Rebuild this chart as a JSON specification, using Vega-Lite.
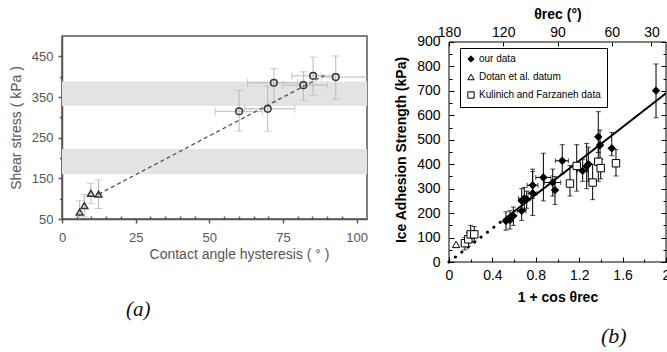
{
  "$schema": "https://vega.github.io/schema/vega-lite/v6.json",
  "background": "white",
  "padding": {"left": 8, "top": 7, "right": 0, "bottom": 0},
  "spacing": 25,
  "resolve": {"scale": {"shape": "independent", "fill": "independent", "stroke": "independent"}, "legend": {"shape": "independent", "fill": "independent", "stroke": "independent"}},
  "config": {"font": "Liberation Sans"},
  "datasets": {
    "bands": [{"lo": 160, "hi": 222}, {"lo": 328, "hi": 388}],
    "a": [
      {"kind": "tri", "x": 6.0, "y": 67, "ylo": 47, "yhi": 95},
      {"kind": "tri", "x": 7.6, "y": 83, "ylo": 55, "yhi": 110},
      {"kind": "tri", "x": 9.8, "y": 113, "ylo": 88, "yhi": 138},
      {"kind": "tri", "x": 12.4, "y": 111, "ylo": 76, "yhi": 146},
      {"kind": "circ", "x": 60.1, "y": 315, "xlo": 52, "xhi": 68, "ylo": 266, "yhi": 366},
      {"kind": "circ", "x": 69.8, "y": 321, "xlo": 62, "xhi": 79, "ylo": 266, "yhi": 377},
      {"kind": "circ", "x": 71.9, "y": 385, "xlo": 63, "xhi": 80, "ylo": 336, "yhi": 420},
      {"kind": "circ", "x": 81.9, "y": 379, "xlo": 75, "xhi": 90, "ylo": 341, "yhi": 412},
      {"kind": "circ", "x": 85.2, "y": 402, "xlo": 78, "xhi": 92, "ylo": 354, "yhi": 448},
      {"kind": "circ", "x": 92.9, "y": 399, "xlo": 88, "xhi": 105, "ylo": 344, "yhi": 451}
    ],
    "aline": [{"x": 12.4, "y": 111}, {"x": 89, "y": 403}],
    "bframe": [{"x0": 0, "x1": 2, "y0": 0, "y1": 900}],
    "b": [
      {"s": "Kulinich and Farzaneh data", "x": 0.147, "y": 77, "ylo": 50, "yhi": 100},
      {"s": "Kulinich and Farzaneh data", "x": 0.178, "y": 93, "ylo": 65, "yhi": 120},
      {"s": "Kulinich and Farzaneh data", "x": 0.2, "y": 113, "ylo": 80, "yhi": 150},
      {"s": "Kulinich and Farzaneh data", "x": 0.233, "y": 113, "ylo": 85, "yhi": 145},
      {"s": "Kulinich and Farzaneh data", "x": 1.115, "y": 321, "ylo": 270, "yhi": 395},
      {"s": "Kulinich and Farzaneh data", "x": 1.177, "y": 393, "ylo": 290, "yhi": 480},
      {"s": "Kulinich and Farzaneh data", "x": 1.324, "y": 325, "ylo": 255, "yhi": 400},
      {"s": "Kulinich and Farzaneh data", "x": 1.376, "y": 410, "ylo": 330, "yhi": 470},
      {"s": "Kulinich and Farzaneh data", "x": 1.398, "y": 384, "ylo": 340, "yhi": 420},
      {"s": "Kulinich and Farzaneh data", "x": 1.539, "y": 404, "ylo": 352, "yhi": 460},
      {"s": "Dotan et al. datum", "x": 0.065, "y": 72},
      {"s": "our data", "x": 0.525, "y": 168, "ylo": 130, "yhi": 205},
      {"s": "our data", "x": 0.562, "y": 172, "ylo": 135, "yhi": 210},
      {"s": "our data", "x": 0.593, "y": 189, "ylo": 150, "yhi": 225},
      {"s": "our data", "x": 0.67, "y": 209, "ylo": 170, "yhi": 250, "xlo": 0.63, "xhi": 0.71},
      {"s": "our data", "x": 0.67, "y": 250, "ylo": 205, "yhi": 300},
      {"s": "our data", "x": 0.694, "y": 260, "ylo": 215, "yhi": 305, "xlo": 0.64, "xhi": 0.75},
      {"s": "our data", "x": 0.716, "y": 257, "ylo": 220, "yhi": 290},
      {"s": "our data", "x": 0.771, "y": 281, "ylo": 190, "yhi": 370, "xlo": 0.73, "xhi": 0.81},
      {"s": "our data", "x": 0.771, "y": 314, "ylo": 260, "yhi": 380, "xlo": 0.72, "xhi": 0.82},
      {"s": "our data", "x": 0.87, "y": 346, "ylo": 250, "yhi": 445, "xlo": 0.8, "xhi": 0.94},
      {"s": "our data", "x": 0.956, "y": 325, "ylo": 270, "yhi": 380, "xlo": 0.88, "xhi": 1.03},
      {"s": "our data", "x": 0.977, "y": 294, "ylo": 235, "yhi": 350},
      {"s": "our data", "x": 1.044, "y": 414, "ylo": 360, "yhi": 480, "xlo": 0.98, "xhi": 1.1},
      {"s": "our data", "x": 1.232, "y": 373, "ylo": 330, "yhi": 420, "xlo": 1.18, "xhi": 1.28},
      {"s": "our data", "x": 1.269, "y": 393, "ylo": 300, "yhi": 485},
      {"s": "our data", "x": 1.284, "y": 400, "ylo": 330, "yhi": 470},
      {"s": "our data", "x": 1.376, "y": 512, "ylo": 448, "yhi": 615},
      {"s": "our data", "x": 1.392, "y": 478, "ylo": 420, "yhi": 540},
      {"s": "our data", "x": 1.5, "y": 465, "ylo": 435, "yhi": 530},
      {"s": "our data", "x": 1.908, "y": 701, "ylo": 590, "yhi": 810}
    ],
    "bline": [
      {"seg": "dot", "x": 0, "y": 0},
      {"seg": "dot", "x": 0.5, "y": 172},
      {"seg": "solid", "x": 0.5, "y": 172},
      {"seg": "solid", "x": 2, "y": 690}
    ]
  },
  "hconcat": [
    {
      "width": 305,
      "height": 183,
      "view": {"stroke": "#555", "strokeWidth": 1.5},
      "title": {"text": "(a)", "orient": "bottom", "anchor": "start", "frame": "group", "dx": 64, "offset": 38, "font": "Liberation Serif", "fontStyle": "italic", "fontWeight": "normal", "fontSize": 21, "color": "#111"},
      "resolve": {"axis": {"x": "independent", "y": "independent"}},
      "layer": [
        {
          "data": {"name": "bands"},
          "mark": {"type": "rect", "color": "#e3e3e3"},
          "encoding": {
            "y": {"field": "lo", "type": "quantitative", "scale": {"domain": [50, 500]}, "axis": null},
            "y2": {"field": "hi"}
          }
        },
        {
          "data": {"name": "a"},
          "mark": {"type": "rule", "color": "#b8b8b8", "strokeWidth": 1, "clip": true},
          "encoding": {
            "x": {"field": "x", "type": "quantitative", "scale": {"domain": [0, 103.5]}, "axis": null},
            "y": {"field": "ylo", "type": "quantitative", "scale": {"domain": [50, 500]}, "axis": null},
            "y2": {"field": "yhi"}
          }
        },
        {
          "data": {"name": "a"},
          "transform": [{"fold": ["ylo", "yhi"], "as": ["k", "v"]}],
          "mark": {"type": "tick", "orient": "horizontal", "color": "#b8b8b8", "size": 8, "thickness": 1, "clip": true},
          "encoding": {
            "x": {"field": "x", "type": "quantitative", "scale": {"domain": [0, 103.5]}, "axis": null},
            "y": {"field": "v", "type": "quantitative", "scale": {"domain": [50, 500]}, "axis": null}
          }
        },
        {
          "data": {"name": "a"},
          "transform": [{"filter": "isValid(datum.xlo)"}],
          "mark": {"type": "rule", "color": "#b8b8b8", "strokeWidth": 1, "clip": true},
          "encoding": {
            "y": {"field": "y", "type": "quantitative", "scale": {"domain": [50, 500]}, "axis": null},
            "x": {"field": "xlo", "type": "quantitative", "scale": {"domain": [0, 103.5]}, "axis": null},
            "x2": {"field": "xhi"}
          }
        },
        {
          "data": {"name": "a"},
          "transform": [{"filter": "isValid(datum.xlo)"}, {"fold": ["xlo", "xhi"], "as": ["k", "v"]}],
          "mark": {"type": "tick", "orient": "vertical", "color": "#b8b8b8", "size": 8, "thickness": 1, "clip": true},
          "encoding": {
            "x": {"field": "v", "type": "quantitative", "scale": {"domain": [0, 103.5]}, "axis": null},
            "y": {"field": "y", "type": "quantitative", "scale": {"domain": [50, 500]}, "axis": null}
          }
        },
        {
          "data": {"name": "aline"},
          "mark": {"type": "line", "color": "#555", "strokeWidth": 1.3, "strokeDash": [4, 3]},
          "encoding": {
            "x": {"field": "x", "type": "quantitative", "scale": {"domain": [0, 103.5]}, "axis": null},
            "y": {"field": "y", "type": "quantitative", "scale": {"domain": [50, 500]}, "axis": null}
          }
        },
        {
          "data": {"name": "a"},
          "mark": {"type": "point", "filled": false, "stroke": "#333", "strokeWidth": 1.5, "size": 45, "opacity": 1},
          "encoding": {
            "x": {
              "field": "x", "type": "quantitative", "scale": {"domain": [0, 103.5]},
              "axis": {
                "orient": "bottom", "title": "Contact angle hysteresis ( ° )",
                "values": [0, 5, 10, 15, 20, 25, 30, 35, 40, 45, 50, 55, 60, 65, 70, 75, 80, 85, 90, 95, 100],
                "labelExpr": "datum.value % 25 === 0 ? datum.label : ''",
                "tickSize": {"condition": {"test": "datum.value % 25 === 0", "value": 4}, "value": -3},
                "labelPadding": 8, "labelFlush": false, "labelOverlap": false, "grid": false,
                "domainColor": "#555", "domainWidth": 1.5, "tickColor": "#555", "tickWidth": 1.5,
                "labelColor": "#555", "labelFontSize": 13, "labelFont": "Liberation Sans",
                "titleFont": "Liberation Sans", "titleFontSize": 14, "titleFontWeight": "normal", "titleColor": "#555",
                "titlePadding": 3, "titleX": 177, "titleAlign": "center"
              }
            },
            "y": {
              "field": "y", "type": "quantitative", "scale": {"domain": [50, 500]},
              "axis": {
                "orient": "left", "title": "Shear stress ( kPa )",
                "values": [50, 100, 150, 200, 250, 300, 350, 400, 450],
                "labelExpr": "(datum.value - 50) % 100 === 0 ? datum.label : ''",
                "tickSize": {"condition": {"test": "(datum.value - 50) % 100 === 0", "value": 4}, "value": 2.5},
                "labelPadding": 5, "labelOverlap": false, "grid": false,
                "domainColor": "#555", "domainWidth": 1.5, "tickColor": "#555", "tickWidth": 1.5,
                "labelColor": "#555", "labelFontSize": 13, "labelFont": "Liberation Sans",
                "titleFont": "Liberation Sans", "titleFontSize": 14, "titleFontWeight": "normal", "titleColor": "#555",
                "titlePadding": 8
              }
            },
            "shape": {"field": "kind", "type": "nominal", "scale": {"domain": ["tri", "circ"], "range": ["triangle-up", "circle"]}, "legend": null}
          }
        }
      ]
    },
    {
      "width": 217,
      "height": 226,
      "view": {"stroke": null},
      "title": {"text": "(b)", "orient": "bottom", "anchor": "start", "frame": "group", "dx": 152, "offset": 22, "font": "Liberation Serif", "fontStyle": "italic", "fontWeight": "normal", "fontSize": 22, "color": "#111"},
      "resolve": {"axis": {"x": "independent", "y": "independent"}},
      "layer": [
        {
          "data": {"name": "bframe"},
          "mark": {"type": "rect", "filled": false, "stroke": "black", "strokeWidth": 1},
          "encoding": {
            "x": {"field": "x0", "type": "quantitative", "scale": {"domain": [0, 2]}, "axis": null},
            "x2": {"field": "x1"},
            "y": {"field": "y0", "type": "quantitative", "scale": {"domain": [0, 924.5]}, "axis": null},
            "y2": {"field": "y1"}
          }
        },
        {
          "data": {"name": "b"},
          "transform": [{"filter": "isValid(datum.ylo)"}],
          "mark": {"type": "rule", "color": "black", "strokeWidth": 1, "clip": true},
          "encoding": {
            "x": {"field": "x", "type": "quantitative", "scale": {"domain": [0, 2]}, "axis": null},
            "y": {"field": "ylo", "type": "quantitative", "scale": {"domain": [0, 924.5]}, "axis": null},
            "y2": {"field": "yhi"}
          }
        },
        {
          "data": {"name": "b"},
          "transform": [{"filter": "isValid(datum.ylo)"}, {"fold": ["ylo", "yhi"], "as": ["k", "v"]}],
          "mark": {"type": "tick", "orient": "horizontal", "color": "black", "size": 5, "thickness": 1, "clip": true},
          "encoding": {
            "x": {"field": "x", "type": "quantitative", "scale": {"domain": [0, 2]}, "axis": null},
            "y": {"field": "v", "type": "quantitative", "scale": {"domain": [0, 924.5]}, "axis": null}
          }
        },
        {
          "data": {"name": "b"},
          "transform": [{"filter": "isValid(datum.xlo)"}],
          "mark": {"type": "rule", "color": "black", "strokeWidth": 1, "clip": true},
          "encoding": {
            "y": {"field": "y", "type": "quantitative", "scale": {"domain": [0, 924.5]}, "axis": null},
            "x": {"field": "xlo", "type": "quantitative", "scale": {"domain": [0, 2]}, "axis": null},
            "x2": {"field": "xhi"}
          }
        },
        {
          "data": {"name": "b"},
          "transform": [{"filter": "isValid(datum.xlo)"}, {"fold": ["xlo", "xhi"], "as": ["k", "v"]}],
          "mark": {"type": "tick", "orient": "vertical", "color": "black", "size": 5, "thickness": 1, "clip": true},
          "encoding": {
            "x": {"field": "v", "type": "quantitative", "scale": {"domain": [0, 2]}, "axis": null},
            "y": {"field": "y", "type": "quantitative", "scale": {"domain": [0, 924.5]}, "axis": null}
          }
        },
        {
          "data": {"name": "bline"},
          "transform": [{"filter": "datum.seg === 'dot'"}],
          "mark": {"type": "line", "color": "black", "strokeWidth": 3, "strokeDash": [0.1, 8], "strokeCap": "round"},
          "encoding": {
            "x": {"field": "x", "type": "quantitative", "scale": {"domain": [0, 2]}, "axis": null},
            "y": {"field": "y", "type": "quantitative", "scale": {"domain": [0, 924.5]}, "axis": null}
          }
        },
        {
          "data": {"name": "bline"},
          "transform": [{"filter": "datum.seg === 'solid'"}],
          "mark": {"type": "line", "color": "black", "strokeWidth": 2, "clip": true},
          "encoding": {
            "x": {
              "field": "x", "type": "quantitative", "scale": {"domain": [0, 2]},
              "axis": {
                "orient": "top", "title": "θrec (°)", "offset": -6, "domain": false,
                "values": [0, 0.5, 1, 1.5, 1.8660254],
                "labelExpr": "'' + round(acos(datum.value - 1) * 180 / PI)",
                "tickSize": -4, "labelPadding": 7, "labelFlush": false, "labelOverlap": false, "grid": false,
                "tickColor": "black", "labelColor": "black", "labelFontSize": 14,
                "titleFontSize": 14, "titleFontWeight": "bold", "titleColor": "black", "titlePadding": 4
              }
            },
            "y": {
              "field": "y", "type": "quantitative", "scale": {"domain": [0, 924.5]},
              "axis": {
                "orient": "right", "title": null, "labels": false, "domain": false,
                "values": [0, 50, 100, 150, 200, 250, 300, 350, 400, 450, 500, 550, 600, 650, 700, 750, 800, 850, 900],
                "tickSize": {"condition": {"test": "datum.value % 100 === 0", "value": -5}, "value": -3},
                "grid": false, "tickColor": "black"
              }
            }
          }
        },
        {
          "data": {"name": "b"},
          "mark": {"type": "point", "filled": true, "strokeWidth": 1, "size": 55, "opacity": 1},
          "encoding": {
            "x": {
              "field": "x", "type": "quantitative", "scale": {"domain": [0, 2]},
              "axis": {
                "orient": "bottom", "title": "1 + cos θrec", "domain": false,
                "values": [0, 0.2, 0.4, 0.6, 0.8, 1, 1.2, 1.4, 1.6, 1.8, 2],
                "labelExpr": "abs(datum.value / 0.4 - round(datum.value / 0.4)) < 0.01 ? format(datum.value, '~g') : ''",
                "tickSize": {"condition": {"test": "abs(datum.value / 0.4 - round(datum.value / 0.4)) < 0.01", "value": -5}, "value": -3},
                "labelPadding": 11, "labelFlush": false, "labelOverlap": false, "grid": false,
                "tickColor": "black", "labelColor": "black", "labelFontSize": 14,
                "titleFontSize": 14, "titleFontWeight": "bold", "titleColor": "black", "titlePadding": 6
              }
            },
            "y": {
              "field": "y", "type": "quantitative", "scale": {"domain": [0, 924.5]},
              "axis": {
                "orient": "left", "title": "Ice Adhesion Strength (kPa)", "domain": false,
                "values": [0, 50, 100, 150, 200, 250, 300, 350, 400, 450, 500, 550, 600, 650, 700, 750, 800, 850, 900],
                "labelExpr": "datum.value % 100 === 0 ? datum.label : ''",
                "tickSize": {"condition": {"test": "datum.value % 100 === 0", "value": -5}, "value": -3},
                "labelPadding": 14, "labelOverlap": false, "grid": false,
                "tickColor": "black", "labelColor": "black", "labelFontSize": 14,
                "titleFontSize": 14, "titleFontWeight": "bold", "titleColor": "black", "titlePadding": 8, "titleY": 113.5
              }
            },
            "shape": {
              "field": "s", "type": "nominal",
              "scale": {"domain": ["our data", "Dotan et al. datum", "Kulinich and Farzaneh data"], "range": ["diamond", "triangle-up", "square"]},
              "legend": {"orient": "none", "legendX": 11, "legendY": 12, "title": null, "strokeColor": "black", "fillColor": "white", "padding": 6, "labelFontSize": 10, "labelColor": "black", "symbolSize": 40, "symbolStrokeWidth": 1, "rowPadding": 7, "labelOffset": 3}
            },
            "fill": {
              "field": "s", "type": "nominal",
              "scale": {"domain": ["our data", "Dotan et al. datum", "Kulinich and Farzaneh data"], "range": ["black", "white", "white"]},
              "legend": {"orient": "none", "legendX": 11, "legendY": 12, "title": null, "strokeColor": "black", "fillColor": "white", "padding": 6, "labelFontSize": 10, "labelColor": "black", "symbolSize": 40, "symbolStrokeWidth": 1, "rowPadding": 7, "labelOffset": 3}
            },
            "stroke": {
              "field": "s", "type": "nominal",
              "scale": {"domain": ["our data", "Dotan et al. datum", "Kulinich and Farzaneh data"], "range": ["black", "black", "black"]},
              "legend": {"orient": "none", "legendX": 11, "legendY": 12, "title": null, "strokeColor": "black", "fillColor": "white", "padding": 6, "labelFontSize": 10, "labelColor": "black", "symbolSize": 40, "symbolStrokeWidth": 1, "rowPadding": 7, "labelOffset": 3}
            }
          }
        }
      ]
    }
  ]
}
